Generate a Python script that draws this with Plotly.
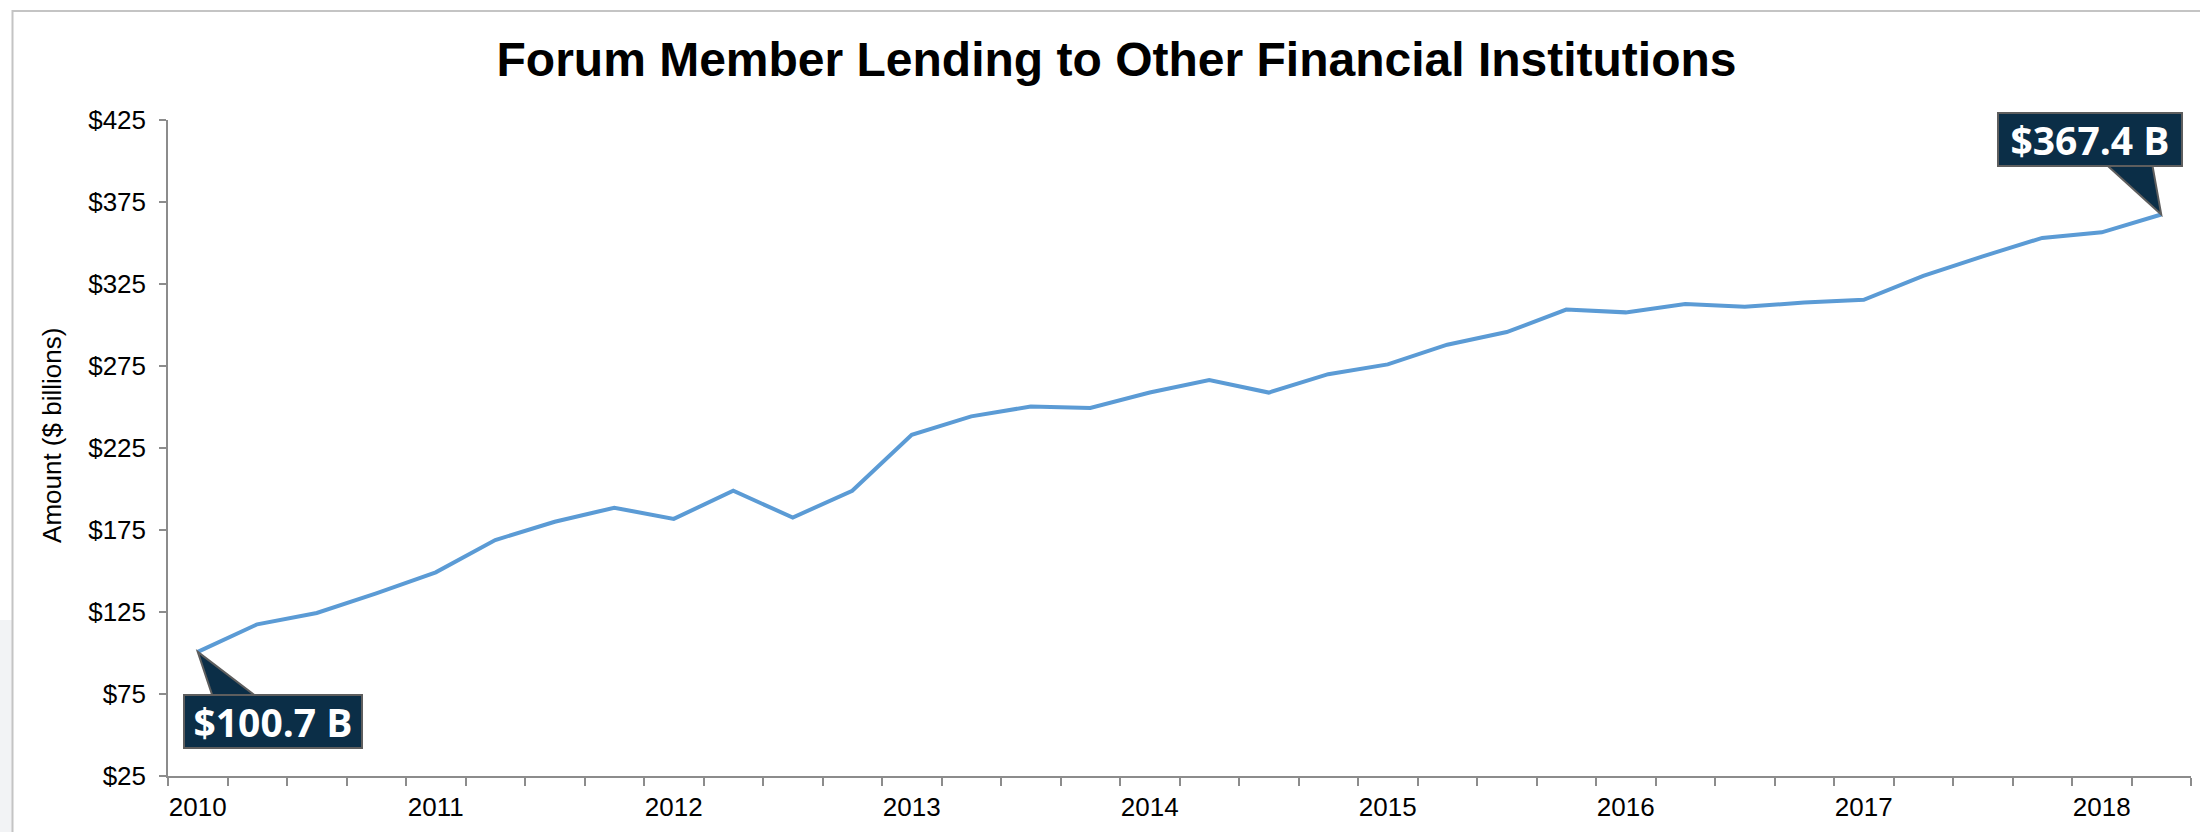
import plotly.graph_objects as go

# ---- data ----
years = list(range(2010, 2019))
quarters = [f"{y} Q{q}" for y in years for q in (1, 2, 3, 4)][:34]
amounts = [100.7, 117.5, 124.4, 136.4, 149.2, 168.9, 180.0, 188.6, 181.8, 198.9,
           182.6, 198.9, 233.1, 244.3, 250.3, 249.4, 258.8, 266.5, 258.8, 270.0,
           276.0, 288.0, 295.7, 309.4, 307.7, 312.8, 311.1, 313.7, 315.4, 330.0,
           341.9, 353.1, 356.5, 367.4]
tick_text = [q.split(" ")[0] if q.endswith("Q1") else "" for q in quarters]
y_ticks = list(range(25, 426, 50))

TITLE = "Forum Member Lending to Other Financial Institutions"
FONT = "Liberation Sans, Arial, sans-serif"
CALLOUT_FONT = "Open Sans, Roboto, sans-serif"
LINE_COLOR = "#5B9BD5"
NAVY = "#0B2E47"
AXIS = "#8C8C8C"

W, H = 2200, 832
ML, MR, MT, MB = 168, 9, 119.5, 56
PW = W - ML - MR
PH = H - MT - MB

fig = go.Figure()
fig.add_trace(go.Scatter(
    x=quarters, y=amounts, mode="lines",
    line=dict(color=LINE_COLOR, width=4),
    hoverinfo="x+y", showlegend=False,
))

def px_to_paper_x(px):
    return (px - ML) / PW

def px_to_paper_y(py):
    return (H - MB - py) / PH

shapes = [
    # light grey slide background patch at bottom-left
    dict(type="rect", xref="paper", yref="paper",
         x0=px_to_paper_x(-20), x1=px_to_paper_x(12), y0=px_to_paper_y(860), y1=px_to_paper_y(620),
         fillcolor="#F2F3F5", line=dict(width=0), layer="below"),
    # chart frame (top & left edges visible)
    dict(type="rect", xref="paper", yref="paper",
         x0=px_to_paper_x(12.5), x1=px_to_paper_x(2300), y0=px_to_paper_y(900), y1=px_to_paper_y(10.5),
         line=dict(color="#C4C4C4", width=2), fillcolor="rgba(0,0,0,0)", layer="below"),
]

# callouts anchored at first and last data points
first_q, first_v = quarters[0], amounts[0]
last_q, last_v = quarters[-1], amounts[-1]

shapes.append(dict(
    type="path", xref="x", yref="y", xsizemode="pixel", ysizemode="pixel",
    xanchor=first_q, yanchor=first_v,
    path="M 0,0 L 15,-45 L 59,-45 Z",
    fillcolor=NAVY, line=dict(color="#5E5E5E", width=2), layer="above"))
shapes.append(dict(
    type="path", xref="x", yref="y", xsizemode="pixel", ysizemode="pixel",
    xanchor=last_q, yanchor=last_v,
    path="M 0,0 L -55,50 L -9,50 Z",
    fillcolor=NAVY, line=dict(color="#5E5E5E", width=2), layer="above"))

annotations = [
    dict(x=first_q, y=first_v, xref="x", yref="y", showarrow=False,
         text=f"<b>${first_v:.1f} B</b>", font=dict(family=CALLOUT_FONT, size=39, color="white"),
         bgcolor=NAVY, bordercolor="#5E5E5E", borderwidth=2, borderpad=0,
         width=176, height=51, align="center", valign="middle",
         xanchor="center", yanchor="middle", xshift=75, yshift=-69.5),
    dict(x=last_q, y=last_v, xref="x", yref="y", showarrow=False,
         text=f"<b>${last_v:.1f} B</b>", font=dict(family=CALLOUT_FONT, size=39, color="white"),
         bgcolor=NAVY, bordercolor="#5E5E5E", borderwidth=2, borderpad=0,
         width=182, height=51, align="center", valign="middle",
         xanchor="center", yanchor="middle", xshift=-71, yshift=75),
    dict(x=px_to_paper_x(52.7), y=px_to_paper_y(435), xref="paper", yref="paper",
         text="Amount ($ billions)", showarrow=False, textangle=-90,
         font=dict(family=FONT, size=26, color="#000000"),
         xanchor="center", yanchor="middle"),
]

fig.update_layout(
    width=W, height=H,
    margin=dict(l=ML, r=MR, t=MT, b=MB, pad=0, autoexpand=False),
    paper_bgcolor="white", plot_bgcolor="white",
    title=dict(text=f"<b>{TITLE}</b>", x=1116.5 / W, xanchor="center",
               y=1 - 59.5 / H, yanchor="middle",
               font=dict(family=FONT, size=48, color="#000000")),
    font=dict(family=FONT, size=26, color="#000000"),
    shapes=shapes, annotations=annotations,
    xaxis=dict(type="category", range=[-0.5, len(quarters) - 0.5],
               tickmode="array", tickvals=quarters, ticktext=tick_text,
               tickson="boundaries", ticks="outside", ticklen=8, tickwidth=1.5,
               tickcolor=AXIS, showline=True, linecolor=AXIS, linewidth=1.5,
               showgrid=False, zeroline=False, ticklabelstandoff=7, tickangle=0,
               automargin=False,
               tickfont=dict(family=FONT, size=26, color="#000000")),
    yaxis=dict(range=[25, 425], tickmode="array", tickvals=y_ticks,
               ticktext=[f"${v}" for v in y_ticks],
               ticks="outside", ticklen=7, tickwidth=1.5, tickcolor=AXIS,
               showline=True, linecolor=AXIS, linewidth=1.5,
               showgrid=False, zeroline=False, ticklabelstandoff=8,
               automargin=False,
               tickfont=dict(family=FONT, size=26, color="#000000")),
)

fig.write_html("out.html", config={"displayModeBar": False},
               post_script="document.body.style.margin='0px';")
